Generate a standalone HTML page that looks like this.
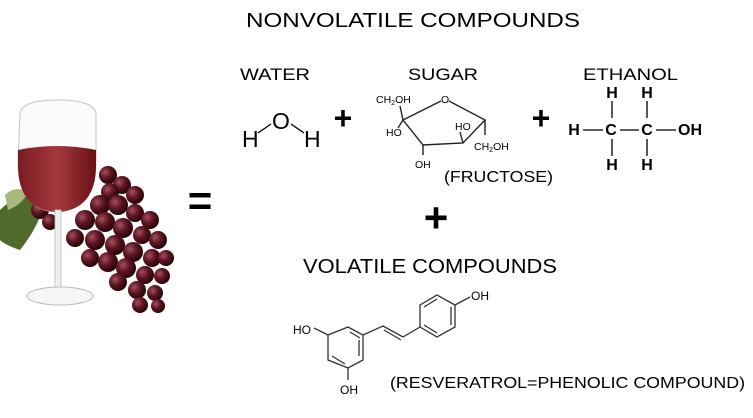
<!DOCTYPE html>
<html><head><meta charset="utf-8"><style>
html,body{margin:0;padding:0;background:#fff}
svg{display:block}
text{font-family:"Liberation Sans",Arial,sans-serif;fill:#000}
</style></head><body>
<svg width="753" height="418" viewBox="0 0 753 418" xmlns="http://www.w3.org/2000/svg">
<defs>
<radialGradient id="gr" cx="35%" cy="35%" r="65%"><stop offset="0" stop-color="#a5505e"/><stop offset="0.5" stop-color="#5e1622"/><stop offset="1" stop-color="#2a0508"/></radialGradient>
<linearGradient id="wine" x1="0" y1="0" x2="1" y2="0"><stop offset="0" stop-color="#7a1a22"/><stop offset="0.5" stop-color="#a33a3c"/><stop offset="1" stop-color="#6a1018"/></linearGradient>
</defs>
<path d="M0 210 Q20 190 45 200 Q40 225 20 250 Q5 245 0 240Z" fill="#4f6a2a"/>
<path d="M5 195 Q15 185 28 192 Q22 205 8 210Z" fill="#a9b77a"/>
<g fill="url(#gr)">
<circle cx="108" cy="175" r="9"/><circle cx="122" cy="185" r="9"/><circle cx="135" cy="195" r="9"/><circle cx="110" cy="192" r="9"/>
<circle cx="100" cy="205" r="10"/><circle cx="118" cy="205" r="10"/><circle cx="135" cy="213" r="9"/><circle cx="150" cy="220" r="9"/>
<circle cx="85" cy="220" r="10"/><circle cx="105" cy="222" r="10"/><circle cx="123" cy="228" r="10"/><circle cx="142" cy="235" r="9"/><circle cx="158" cy="240" r="9"/>
<circle cx="75" cy="238" r="9"/><circle cx="95" cy="240" r="10"/><circle cx="115" cy="245" r="10"/><circle cx="133" cy="252" r="10"/><circle cx="152" cy="258" r="9"/><circle cx="166" cy="258" r="8"/>
<circle cx="90" cy="258" r="9"/><circle cx="108" cy="262" r="10"/><circle cx="126" cy="268" r="10"/><circle cx="145" cy="275" r="9"/><circle cx="162" cy="276" r="8"/>
<circle cx="118" cy="282" r="9"/><circle cx="137" cy="290" r="9"/><circle cx="155" cy="293" r="8"/><circle cx="140" cy="305" r="8"/><circle cx="158" cy="306" r="7"/>
<circle cx="40" cy="210" r="9"/><circle cx="50" cy="222" r="8"/>
</g>
<path d="M20 115 Q20 100 57 100 Q96 100 96 115 L96 160 Q96 210 57 212 Q18 210 18 160Z" fill="#fbfbfb" stroke="#ccc" stroke-width="1.2"/>
<path d="M18 150 Q57 142 96 150 L96 165 Q96 210 57 212 Q18 210 18 165Z" fill="url(#wine)"/>
<rect x="55" y="210" width="6" height="82" fill="#eee" stroke="#bbb" stroke-width="0.8"/>
<ellipse cx="60" cy="296" rx="33" ry="9" fill="#f6f6f6" stroke="#bbb"/>
<text x="246" y="27" font-size="20" textLength="334" lengthAdjust="spacingAndGlyphs">NONVOLATILE COMPOUNDS</text>
<text x="240" y="80" font-size="17" textLength="70" lengthAdjust="spacingAndGlyphs">WATER</text>
<text x="408" y="80" font-size="17" textLength="70" lengthAdjust="spacingAndGlyphs">SUGAR</text>
<text x="583" y="80" font-size="17" textLength="95" lengthAdjust="spacingAndGlyphs">ETHANOL</text>
<text x="242" y="147" font-size="23">H</text>
<text x="272" y="129" font-size="23">O</text>
<text x="304" y="147" font-size="23">H</text>
<line x1="258" y1="133" x2="271" y2="124" stroke="#000" stroke-width="1.3"/>
<line x1="291" y1="124" x2="304" y2="133" stroke="#000" stroke-width="1.3"/>
<text x="343" y="129" font-size="32" font-weight="bold" text-anchor="middle">+</text>
<g stroke="#222" stroke-width="1.4" fill="none">
<polyline points="441,101 403,120 423,145 463,143 485,120 449,101"/>
<line x1="403" y1="120" x2="400" y2="106"/>
<line x1="403" y1="120" x2="398" y2="128"/>
<line x1="485" y1="120" x2="485" y2="135"/>
<line x1="463" y1="143" x2="460" y2="132"/>
<line x1="423" y1="145" x2="423" y2="155"/>
</g>
<g font-size="10.5" fill="#222">
<text x="376" y="103">CH<tspan font-size="7" dy="2">2</tspan><tspan dy="-2">OH</tspan></text>
<text x="441" y="103">O</text>
<text x="386" y="136">HO</text>
<text x="455" y="130">HO</text>
<text x="474" y="150">CH<tspan font-size="7" dy="2">2</tspan><tspan dy="-2">OH</tspan></text>
<text x="415" y="168">OH</text>
</g>
<text x="444" y="182" font-size="16" fill="#1a1a2a" textLength="109" lengthAdjust="spacingAndGlyphs">(FRUCTOSE)</text>
<text x="541" y="129" font-size="32" font-weight="bold" text-anchor="middle">+</text>
<g font-size="16" font-weight="bold" text-anchor="middle">
<text x="612" y="98">H</text><text x="647" y="98">H</text>
<text x="574" y="135">H</text><text x="611" y="135">C</text><text x="647" y="135">C</text><text x="690" y="135">OH</text>
<text x="612" y="170">H</text><text x="647" y="170">H</text>
</g>
<g stroke="#000" stroke-width="1.3">
<line x1="612" y1="101" x2="612" y2="118"/><line x1="647" y1="101" x2="647" y2="118"/>
<line x1="612" y1="139" x2="612" y2="156"/><line x1="647" y1="139" x2="647" y2="156"/>
<line x1="583" y1="130" x2="603" y2="130"/><line x1="620" y1="130" x2="639" y2="130"/><line x1="656" y1="130" x2="676" y2="130"/>
</g>
<text x="200" y="215" font-size="42" font-weight="bold" text-anchor="middle">=</text>
<text x="436" y="232" font-size="42" font-weight="bold" text-anchor="middle">+</text>
<text x="303" y="273" font-size="20" textLength="254" lengthAdjust="spacingAndGlyphs">VOLATILE COMPOUNDS</text>
<g stroke="#333" stroke-width="1.3" fill="none">
<polygon points="348,327 363,335 363,360 348,368 328,360 328,335"/>
<line x1="350" y1="332" x2="360" y2="338"/><line x1="359" y1="340" x2="359" y2="356"/><line x1="332" y1="356" x2="345" y2="364"/>
<line x1="328" y1="335" x2="314" y2="328"/>
<line x1="348" y1="368" x2="348" y2="380"/>
<polyline points="363,335 383,326 403,337 420,327"/>
<line x1="384" y1="330" x2="401" y2="340"/>
<polygon points="420,327 420,305 437,295 455,305 455,327 437,337"/>
<line x1="424" y1="307" x2="437" y2="299"/><line x1="451" y1="307" x2="451" y2="325"/><line x1="424" y1="325" x2="437" y2="333"/>
<line x1="455" y1="305" x2="470" y2="297"/>
</g>
<g font-size="12" fill="#222">
<text x="293" y="334">HO</text>
<text x="340" y="394">OH</text>
<text x="471" y="300">OH</text>
</g>
<text x="390" y="388" font-size="16" fill="#1a1a2a" textLength="355" lengthAdjust="spacingAndGlyphs">(RESVERATROL=PHENOLIC COMPOUND)</text>
</svg>
</body></html>
